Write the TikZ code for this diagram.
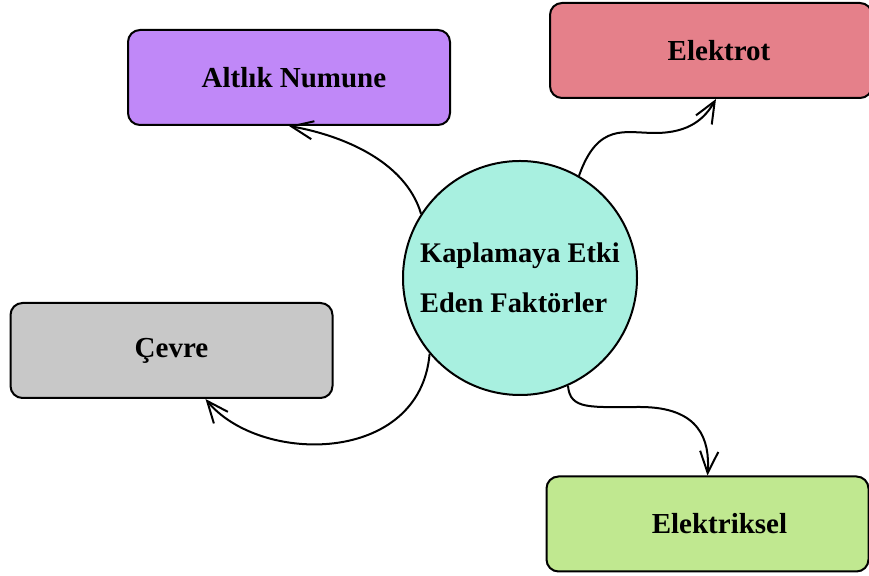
\documentclass[tikz,border=0pt]{standalone}
\usepackage{fontspec}
\setmainfont{Liberation Serif}
\usepackage{xcolor}
\usetikzlibrary{arrows.meta,positioning,calc}
\definecolor{altlikc}{HTML}{C088F8}
\definecolor{elektrotc}{HTML}{E5808A}
\definecolor{cevrec}{HTML}{C8C8C8}
\definecolor{elektrikc}{HTML}{C0E890}
\definecolor{hubc}{HTML}{A8F0E0}

\begin{document}
\begin{tikzpicture}[x=0.5pt,y=-0.5pt,>={Straight Barb[length=3.8mm,width=3.2mm]},
  line width=1pt,
  box/.style={draw,rounded corners=6pt,minimum width=161pt,minimum height=47.5pt,
    font=\fontsize{14.5}{17}\selectfont\bfseries},
  txshift/.style={execute at begin node={\hspace*{#1}}},
  hub/.style={draw,circle,fill=hubc,minimum size=117pt,inner sep=0pt,align=left,
    font=\fontsize{14.2}{25}\selectfont\bfseries}]
  \useasboundingbox (0,0) rectangle (869,576);
  \node[hub] (hub) at (520,278) {Kaplamaya Etki\\Eden Faktörler};
  \node[box,fill=altlikc,txshift=5pt] (altlik) at (289,77.5) {Altlık Numune};
  \node[box,fill=elektrotc,txshift=8pt] (elektrot) at (711,50.5) {Elektrot};
  \node[box,fill=cevrec] (cevre) at (171.5,350.5) {Çevre};
  \node[box,fill=elektrikc,txshift=12pt] (elektrik) at (707.5,524) {Elektriksel};
  \draw[->] (hub.147) .. controls (405,160) and (340,135) .. (altlik.south);
  \draw[->] (hub.60) .. controls (598,122) and (625,133) .. (655,133)
    .. controls (690,133) and (705,118) .. ($(elektrot.south)+(5,0)$);
  \draw[->] (hub.220) .. controls (420,465) and (260,465) .. ($(cevre.south)+(34,0)$);
  \draw[->] (hub.-66) .. controls (570,410) and (590,407) .. (640,407)
    .. controls (700,407) and (710,440) .. (elektrik.north);
\end{tikzpicture}
\end{document}
